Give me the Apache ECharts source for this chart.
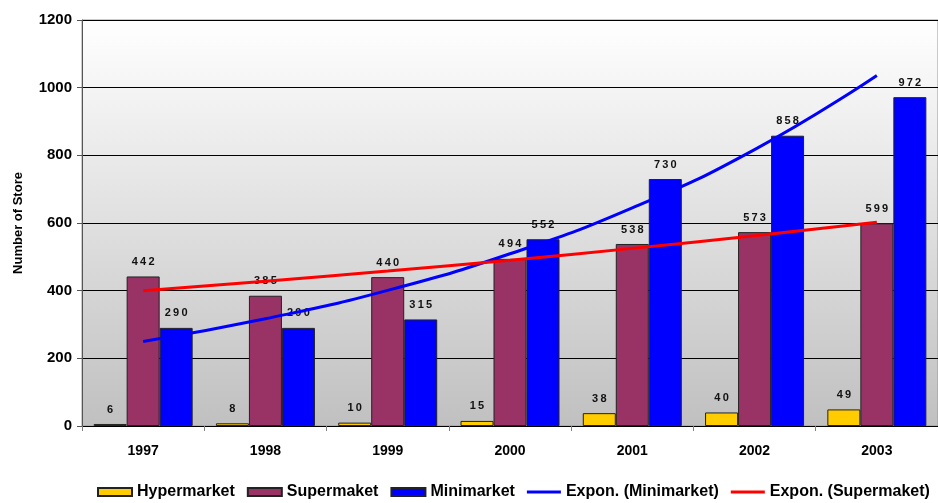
<!DOCTYPE html>
<html>
<head>
<meta charset="utf-8">
<script src="https://cdn.jsdelivr.net/npm/echarts@6/dist/echarts.min.js"></script>
<style>
  html, body { margin: 0; padding: 0; background: #fff; }
  #chart { width: 938px; height: 503px; }
</style>
</head>
<body>
<div id="chart"></div>
<script>
const years = ['1997', '1998', '1999', '2000', '2001', '2002', '2003']
const hyper = [6, 8, 10, 15, 38, 40, 49]
const superm = [442, 385, 440, 494, 538, 573, 599]
const mini = [290, 290, 315, 552, 730, 858, 972]
const trendMini = [250, 317, 401, 509, 645, 817, 1036]
const trendSuper = [400, 428, 458, 490, 525, 562, 602]

const font = 'Arial, "Liberation Sans", sans-serif'

const barLabel = {
  show: true,
  position: 'top',
  distance: 9,
  color: '#111',
  fontWeight: 'bold',
  fontSize: 11,
  fontFamily: font,
  formatter: p => String(p.value).split('').join('\u2009')
}

const lineIcon = 'path://M0,0H34V3H0Z'

const chart = echarts.init(document.getElementById('chart'))
chart.setOption({
  animation: false,
  backgroundColor: '#fff',
  grid: {
    left: 82,
    right: -6,
    top: 20,
    bottom: 77,
    show: true,
    borderWidth: 1,
    borderColor: '#999',
    backgroundColor: {
      type: 'linear', x: 0, y: 0, x2: 0, y2: 1,
      colorStops: [{ offset: 0, color: '#ffffff' }, { offset: 1, color: '#c0c0c0' }]
    }
  },
  legend: {
    bottom: 3,
    left: 97,
    width: 900,
    padding: 0,
    itemGap: 12,
    itemWidth: 34,
    itemHeight: 8,
    textStyle: {
      color: '#000',
      fontWeight: 'bold',
      fontSize: 16,
      fontFamily: font
    },
    data: [
      { name: 'Hypermarket', icon: 'rect' },
      { name: 'Supermaket', icon: 'rect' },
      { name: 'Minimarket', icon: 'rect' },
      { name: 'Expon. (Minimarket)', icon: lineIcon },
      { name: 'Expon. (Supermaket)', icon: lineIcon }
    ]
  },
  xAxis: {
    type: 'category',
    data: years,
    boundaryGap: true,
    axisLine: { lineStyle: { color: '#000', width: 1 } },
    axisTick: { show: true, length: 5, lineStyle: { color: '#808080' } },
    axisLabel: {
      color: '#000',
      fontWeight: 'bold',
      fontSize: 14,
      fontFamily: font,
      margin: 18
    }
  },
  yAxis: {
    type: 'value',
    min: 0,
    max: 1200,
    interval: 200,
    name: 'Number of Store',
    nameLocation: 'middle',
    nameGap: 57,
    nameTextStyle: {
      color: '#000',
      fontWeight: 'bold',
      fontSize: 13,
      fontFamily: font
    },
    axisLine: { show: true, lineStyle: { color: '#555' } },
    axisTick: { show: true, length: 5, lineStyle: { color: '#555' } },
    axisLabel: {
      color: '#000',
      fontWeight: 'bold',
      fontSize: 15,
      fontFamily: font,
      margin: 10,
      formatter: v => String(v)
    },
    splitLine: { lineStyle: { color: '#000', width: 1 } }
  },
  series: [
    {
      name: 'Hypermarket',
      type: 'bar',
      data: hyper,
      barWidth: 33,
      barGap: '0%',
      itemStyle: { color: '#ffcc00', borderColor: '#222', borderWidth: 1 },
      label: barLabel
    },
    {
      name: 'Supermaket',
      type: 'bar',
      data: superm,
      barWidth: 33,
      barGap: '0%',
      itemStyle: { color: '#993366', borderColor: '#222', borderWidth: 1 },
      label: barLabel
    },
    {
      name: 'Minimarket',
      type: 'bar',
      data: mini,
      barWidth: 33,
      barGap: '0%',
      itemStyle: { color: '#0000ff', borderColor: '#222', borderWidth: 1 },
      label: barLabel
    },
    {
      name: 'Expon. (Minimarket)',
      type: 'line',
      data: trendMini,
      smooth: true,
      symbol: 'none',
      z: 5,
      lineStyle: { color: '#0000ff', width: 3 },
      itemStyle: { color: '#0000ff' }
    },
    {
      name: 'Expon. (Supermaket)',
      type: 'line',
      data: trendSuper,
      smooth: true,
      symbol: 'none',
      z: 5,
      lineStyle: { color: '#ff0000', width: 3 },
      itemStyle: { color: '#ff0000' }
    }
  ]
})
</script>
</body>
</html>
